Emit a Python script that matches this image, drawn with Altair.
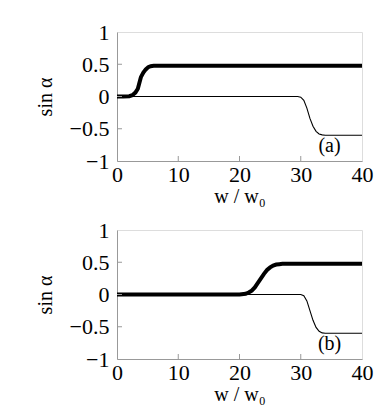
import altair as alt
import pandas as pd

# Panel (a)
a_thick_x = [0, 1, 2, 2.5, 3, 3.4, 3.9, 4.3, 4.7, 5.1, 5.5, 6, 40]
a_thick_y = [0, 0, 0.005, 0.02, 0.06, 0.12, 0.30, 0.37, 0.42, 0.455, 0.47, 0.475, 0.475]
a_thin_x = [0, 29.5, 30, 30.5, 31, 31.5, 32, 32.5, 33, 33.5, 34, 40]
a_thin_y = [0, 0, -0.01, -0.06, -0.18, -0.34, -0.46, -0.54, -0.58, -0.595, -0.6, -0.6]

# Panel (b)
b_thick_x = [0, 20, 21, 21.5, 22, 22.5, 23, 23.5, 24, 24.5, 25, 25.5, 26, 26.5, 27, 40]
b_thick_y = [0, 0, 0.01, 0.03, 0.06, 0.11, 0.18, 0.25, 0.32, 0.38, 0.42, 0.45, 0.465, 0.47, 0.475, 0.475]
b_thin_x = [0, 30, 30.5, 31, 31.5, 32, 32.5, 33, 33.5, 34, 40]
b_thin_y = [0, 0, -0.02, -0.1, -0.25, -0.4, -0.51, -0.57, -0.595, -0.6, -0.6]

x_ticks = [0, 10, 20, 30, 40]
y_ticks = [-1, -0.5, 0, 0.5, 1]
panel_labels = ["(a)", "(b)"]
label_x = 34.7
label_y = -0.77

W, H = 245, 129
FONT = "Liberation Serif"
GRAY = "#999999"
FS = 22
TFS = 20

xscale = alt.Scale(domain=[0, 40], nice=False, zero=False)
yscale = alt.Scale(domain=[-1, 1], nice=False, zero=False)


def panel(tx, ty, nx, ny, lab):
    thick = pd.DataFrame({"x": tx, "y": ty})
    thin = pd.DataFrame({"x": nx, "y": ny})
    xaxis = alt.Axis(values=x_ticks, title="w / w₀", labelPadding=3, titlePadding=1,
                     format="~g")
    yaxis = alt.Axis(values=y_ticks, title="sin α", format="~g", labelPadding=8,
                     titlePadding=14, labelOverlap=False, tickCount=5)
    thin_l = alt.Chart(thin).mark_line(color="black", strokeWidth=1.1).encode(
        x=alt.X("x:Q", scale=xscale, axis=xaxis),
        y=alt.Y("y:Q", scale=yscale, axis=yaxis),
    )
    thick_l = alt.Chart(thick).mark_line(color="black", strokeWidth=4).encode(
        x=alt.X("x:Q", scale=xscale), y=alt.Y("y:Q", scale=yscale)
    )
    xt = alt.Chart(pd.DataFrame({"x": x_ticks[1:-1]})).mark_rule(color=GRAY, strokeWidth=1).encode(
        x=alt.X("x:Q", scale=xscale), y=alt.value(H), y2=alt.value(H - 5)
    )
    yt = alt.Chart(pd.DataFrame({"y": y_ticks[1:-1]})).mark_rule(color=GRAY, strokeWidth=1).encode(
        y=alt.Y("y:Q", scale=yscale), x=alt.value(0), x2=alt.value(5)
    )
    txt = alt.Chart(pd.DataFrame({"x": [label_x], "y": [label_y], "t": [lab]})).mark_text(
        font=FONT, fontSize=TFS, color="black"
    ).encode(x=alt.X("x:Q", scale=xscale), y=alt.Y("y:Q", scale=yscale), text="t:N")
    return alt.layer(thin_l, thick_l, xt, yt, txt).properties(width=W, height=H)


top = panel(a_thick_x, a_thick_y, a_thin_x, a_thin_y, panel_labels[0])
bot = panel(b_thick_x, b_thick_y, b_thin_x, b_thin_y, panel_labels[1])

chart = alt.vconcat(top, bot, spacing=69, bounds="flush").properties(
    padding={"left": 26, "top": 12, "right": 0, "bottom": 0}
).configure_view(stroke=GRAY, strokeWidth=1).configure(background="white").configure_axis(
    ticks=False, grid=False, labelFont=FONT, labelFontSize=FS, labelColor="black",
    titleFont=FONT, titleFontSize=TFS, titleFontWeight="normal", titleColor="black",
    domainColor=GRAY, labelFlush=False, labelOverlap=False
)

chart.save("out.html", embed_options={"renderer": "svg", "actions": False})
